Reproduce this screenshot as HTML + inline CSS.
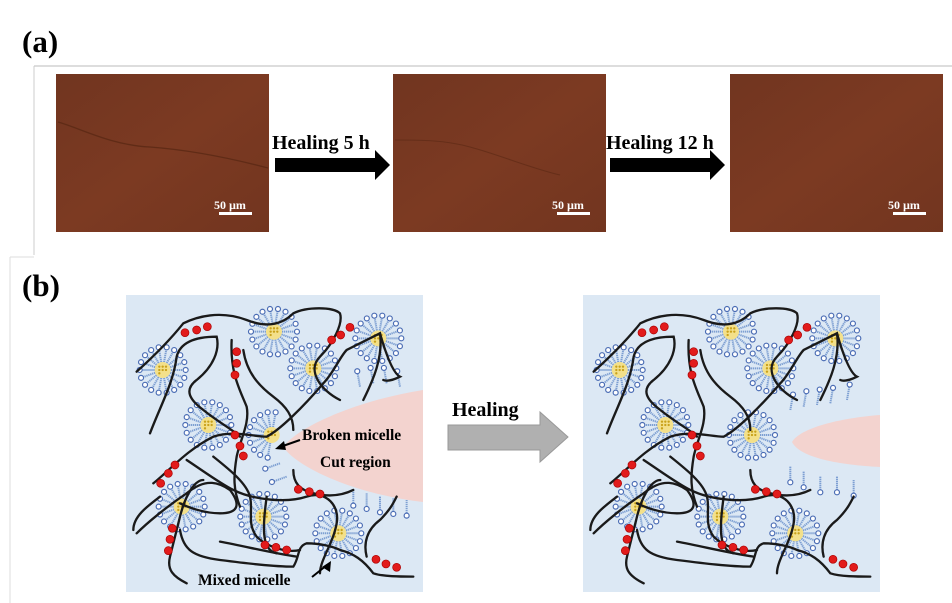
<!DOCTYPE html>
<html><head><meta charset="utf-8"><style>
html,body{margin:0;padding:0;background:#fff;width:952px;height:603px;overflow:hidden}
svg text{font-family:"Liberation Serif",serif;font-weight:bold}
</style></head><body>
<svg id="s" width="952" height="603" viewBox="0 0 952 603" xmlns="http://www.w3.org/2000/svg">
<defs>
<linearGradient id="br" x1="0" y1="0" x2="1" y2="1"><stop offset="0" stop-color="#713520"/><stop offset="0.5" stop-color="#7c3a22"/><stop offset="1" stop-color="#72351f"/></linearGradient>
</defs>
<text x="22" y="52" font-size="31">(a)</text>
<line x1="34" y1="66" x2="952" y2="66" stroke="#bbb" stroke-width="1"/>
<line x1="34" y1="66" x2="34" y2="255" stroke="#ccc" stroke-width="1"/>
<line x1="10" y1="257" x2="34" y2="257" stroke="#ddd" stroke-width="1"/>
<line x1="10" y1="257" x2="10" y2="603" stroke="#ddd" stroke-width="1"/>
<rect x="56" y="74" width="213" height="158" fill="url(#br)"/>
<path d="M58,122 C80,128 110,145 150,147 C190,150 230,158 268,168" stroke="#5a2814" stroke-width="1.3" fill="none" opacity="0.8"/>
<rect x="393" y="74" width="213" height="158" fill="url(#br)"/>
<path d="M395,140 C420,140 445,140 470,147 C500,155 530,168 560,175" stroke="#5a2814" stroke-width="1.1" fill="none" opacity="0.6"/>
<rect x="730" y="74" width="213" height="158" fill="url(#br)"/>
<g fill="#fff" font-size="12"><text x="214" y="209">50 µm</text><text x="552" y="209">50 µm</text><text x="888" y="209">50 µm</text></g>
<g fill="#fff"><rect x="219" y="212" width="33" height="3"/><rect x="557" y="212" width="33" height="3"/><rect x="893" y="212" width="33" height="3"/></g>
<text x="272" y="149" font-size="20">Healing 5 h</text>
<text x="606" y="149" font-size="20">Healing 12 h</text>
<path d="M275,158 H375 V150 L390,165 L375,180 V172 H275Z" fill="#000"/>
<path d="M610,158 H710 V150 L725,165 L710,180 V172 H610Z" fill="#000"/>
<text x="22" y="296" font-size="31">(b)</text>
<rect x="126" y="295" width="297" height="297" fill="#dce8f4"/>
<rect x="583" y="295" width="297" height="297" fill="#dce8f4"/>
<path d="M423,390 C360,400 300,425 283,447 C300,470 360,495 423,502Z" fill="#f3d3cf"/>
<path d="M880,415 C840,418 800,428 792,442 C800,458 840,465 880,467Z" fill="#f3d3cf"/>
<g id="L" transform="translate(120,290) scale(0.3333)"></g>
<g id="R" transform="translate(577,290) scale(0.3333)"></g>
<text x="452" y="416" font-size="20">Healing</text>
<path d="M448,425 H540 V412 L568,437 L540,462 V450 H448Z" fill="#b0b0b0" stroke="#999" stroke-width="1"/>
<g font-size="15.5"><text x="302" y="440">Broken micelle</text><text x="320" y="467">Cut region</text><text x="198" y="585">Mixed  micelle</text></g>
<path d="M300,440 L280,447" stroke="#000" stroke-width="2"/><path d="M275,449 L284,441 L286,450Z" fill="#000"/>
<path d="M312,577 L327,565" stroke="#000" stroke-width="2"/><path d="M331,561 L330,572 L322,567Z" fill="#000"/>
</svg>
<script>
var NS="http://www.w3.org/2000/svg";
function el(p,t,a){var e=document.createElementNS(NS,t);for(var k in a)e.setAttribute(k,a[k]);p.appendChild(e);return e;}
var paths=["M50,245 C100,200 150,150 190,100 C230,80 300,60 380,90 C430,110 480,110 520,70 C560,50 640,50 660,70 C670,100 640,160 600,200 C560,240 600,300 660,330",
"M90,430 C120,350 160,280 170,200 C180,160 220,140 290,140 C300,180 280,230 230,270 C190,300 210,330 250,360 C300,400 340,420 360,440",
"M335,150 C330,250 360,300 380,350 C390,400 360,450 350,500 C340,560 340,600 360,650",
"M370,180 C380,250 420,290 460,320 C500,350 520,380 520,420",
"M200,510 C260,550 300,580 340,600 C400,630 500,640 560,620 C620,600 660,650 650,700 C640,760 600,810 600,850",
"M100,580 C150,540 200,480 280,440 C340,420 400,440 440,440 C480,420 550,350 610,280 C640,250 660,200 680,180 C720,160 760,140 780,130 C790,200 760,270 730,330",
"M280,500 C330,540 380,580 390,620 C400,660 380,700 410,740 C440,770 500,790 540,780",
"M50,730 C80,700 140,650 200,610 C260,560 300,580 330,600 C360,640 360,670 300,670 C250,670 200,650 180,640",
"M200,880 C160,860 140,840 150,800 C160,760 170,720 180,680 C200,600 230,570 250,570",
"M180,720 C190,780 220,800 300,810 C380,820 460,830 520,830 C540,800 530,770 560,760 C600,760 640,770 660,780 C700,790 730,810 760,850 C790,860 840,860 880,860",
"M300,755 C380,770 460,790 530,800","M740,800 C730,760 740,720 780,690 C810,660 820,640 830,620",
"M40,720 C40,680 80,650 120,620","M520,540 C520,580 540,600 580,610 C620,620 660,620 700,600","M440,620 C430,700 420,780 470,790",
"M780,130 C800,200 820,250 840,260 C820,270 800,275 790,270"];
var reds=[[195,128],[230,120],[262,110],[350,185],[350,220],[345,255],[635,150],[662,135],[690,112],[345,435],[360,468],[370,498],[165,525],[145,550],[122,580],[157,715],[150,748],[145,782],[535,598],[568,605],[600,612],[435,765],[468,772],[500,780],[768,808],[798,822],[830,832]];
function micelle(g,cx,cy,a0,a1){
 var n=18;for(var i=0;i<n;i++){var a=i/n*2*Math.PI;
  if(a0!==undefined){var d=a*180/Math.PI;if(d<a0||d>a1)continue;}
  var x1=cx+24*Math.cos(a),y1=cy+24*Math.sin(a),x2=cx+62*Math.cos(a),y2=cy+62*Math.sin(a);
  el(g,"line",{x1:x1,y1:y1,x2:x2,y2:y2,stroke:"#7d9fd2","stroke-width":6,"stroke-dasharray":"4 2"});
  el(g,"circle",{cx:cx+69*Math.cos(a),cy:cy+69*Math.sin(a),r:7.5,fill:"#fff",stroke:"#4a6cb4","stroke-width":3.5});}
 el(g,"circle",{cx:cx,cy:cy,r:24,fill:"#f3e08a"});
 for(var k=0;k<7;k++){el(g,"circle",{cx:cx-10+(k%3)*10,cy:cy-10+Math.floor(k/3)*10,r:3.5,fill:"#c9a21b"});}
}
function lipid(g,x,y,ang){var a=ang*Math.PI/180;
 el(g,"line",{x1:x,y1:y,x2:x+40*Math.cos(a),y2:y+40*Math.sin(a),stroke:"#7d9fd2","stroke-width":6,"stroke-dasharray":"4 2"});
 el(g,"circle",{cx:x+47*Math.cos(a),cy:y+47*Math.sin(a),r:7.5,fill:"#fff",stroke:"#4a6cb4","stroke-width":3.5});}
function build(g,right){
 var ms=[[462,125],[128,240],[580,235],[775,145],[265,405],[185,650],[430,680],[655,730]];
 ms.forEach(function(m){micelle(g,m[0],m[1]);});
 if(right){micelle(g,525,435);
  [[640,360],[680,350],[720,345],[760,340],[810,330],[640,530],[680,545],[730,560],[780,560],[830,570]].forEach(function(p,i){lipid(g,p[0],p[1],i<5?-80:90);});
 } else {micelle(g,455,435,90,290);
  [[720,290],[760,280],[800,280],[840,290],[700,600],[740,610],[780,620],[820,625],[860,630],[500,560],[480,520]].forEach(function(p,i){lipid(g,p[0],p[1],i<4?-100:(i<9?90:160));});}
 paths.forEach(function(d){el(g,"path",{d:d,fill:"none",stroke:"#1a1a1a","stroke-width":7,"stroke-linecap":"round"});});
 reds.forEach(function(r){el(g,"circle",{cx:r[0],cy:r[1],r:12,fill:"#e21b1b",stroke:"#a00","stroke-width":2});});
}
build(document.getElementById("L"),false);
build(document.getElementById("R"),true);
</script>
</body></html>
